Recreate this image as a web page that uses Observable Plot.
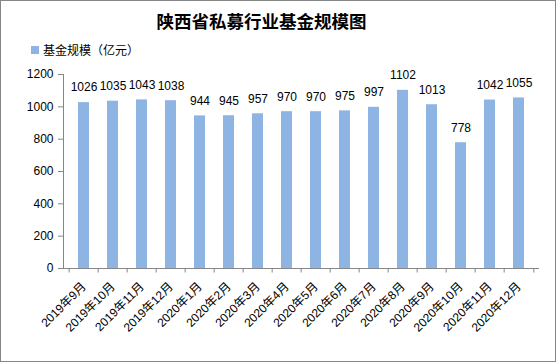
<!DOCTYPE html>
<html>
<head>
<meta charset="utf-8">
<script src="https://cdn.jsdelivr.net/npm/d3@7"></script>
<script src="https://cdn.jsdelivr.net/npm/@observablehq/plot@0.6"></script>
<style>
  body { margin: 0; background: #fff; }
  #wrap { position: relative; width: 556px; height: 362px; overflow: hidden; background: #fff;
          font-family: "Liberation Sans", "Noto Sans CJK SC", sans-serif; }
  #border { position: absolute; left: 0; top: 0; width: 556px; height: 362px; box-sizing: border-box;
            border: 1px solid #868686; pointer-events: none; }
  #title { position: absolute; left: 140px; width: 243px; top: 12px; text-align: center;
           font-family: "Noto Sans CJK SC", sans-serif; font-weight: bold; font-size: 17.5px; line-height: 17.5px; color: #000; white-space: nowrap; }
  #legend { position: absolute; left: 31px; top: 43px; height: 13px; display: flex; align-items: center;
            font-family: "Noto Sans CJK SC", sans-serif; font-size: 12px; line-height: 12px; color: #000; white-space: nowrap;
            text-spacing-trim: space-all; }
  #legend .sw { width: 8px; height: 8px; background: #8eb4e3; margin-right: 4px; }
  #plot { position: absolute; left: 0; top: 0; }
</style>
</head>
<body>
<div id="wrap">
  <div id="plot"></div>
  <div id="title"></div>
  <div id="legend"><span class="sw"></span><span id="legtext"></span></div>
  <div id="border"></div>
</div>
<script>
const titleText = "陕西省私募行业基金规模图";
const seriesName = "基金规模（亿元）";
const months = ["2019年9月","2019年10月","2019年11月","2019年12月","2020年1月","2020年2月","2020年3月","2020年4月","2020年5月","2020年6月","2020年7月","2020年8月","2020年9月","2020年10月","2020年11月","2020年12月"];
const values = [1026,1035,1043,1038,944,945,957,970,970,975,997,1102,1013,778,1042,1055];
const yTicks = [0,200,400,600,800,1000,1200];

document.getElementById("title").textContent = titleText;
document.getElementById("legtext").textContent = seriesName;

const data = months.map((m, i) => ({month: m, value: values[i]}));
const W = 556, H = 362, mL = 63, mR = 18, mT = 74, mB = 94;
const bw = (W - mL - mR) / months.length;
const frameH = H - mT - mB;
const axisColor = "#868686";

const chart = Plot.plot({
  width: W, height: H,
  marginLeft: mL, marginRight: mR, marginTop: mT, marginBottom: mB,
  style: {fontFamily: '"Liberation Sans","Noto Sans CJK SC",sans-serif', fontSize: "12px", color: "#000", background: "transparent", overflow: "visible"},
  x: {domain: months, padding: 0, label: null},
  y: {domain: [0, 1200], label: null},
  marks: [
    Plot.barY(data, {x: "month", y: "value", fill: "#8eb4e3", insetLeft: 9, insetRight: 9}),
    Plot.ruleX(months, {x: d => d, dx: -bw / 2, stroke: axisColor, insetTop: frameH - 4.5, dy: 4.5}),
    Plot.ruleX([months[months.length - 1]], {x: d => d, dx: bw / 2, stroke: axisColor, insetTop: frameH - 4.5, dy: 4.5}),
    Plot.frame({anchor: "left", stroke: axisColor}),
    Plot.frame({anchor: "bottom", stroke: axisColor}),
    Plot.axisY({ticks: yTicks, tickFormat: d => String(d), tickSize: 5, tickPadding: 5, stroke: axisColor, fill: "#000", label: null, fontSize: 12}),
    Plot.axisX({tickRotate: -45, tickSize: 0, tickPadding: 16, fill: "#000", label: null, fontSize: 12}),
    Plot.text(data, {x: "month", y: "value", text: d => String(d.value), dy: -15, fill: "#000", fontSize: 12})
  ]
});
document.getElementById("plot").appendChild(chart);
</script>
</body>
</html>
